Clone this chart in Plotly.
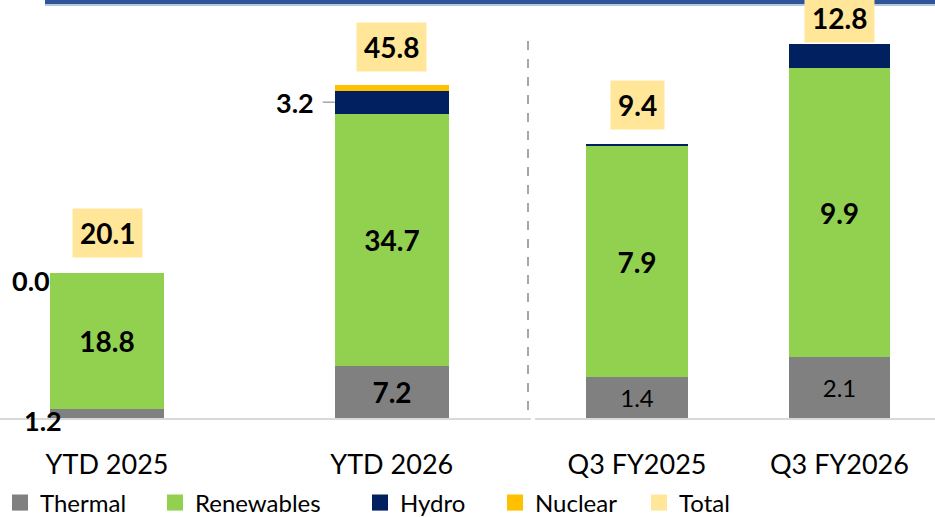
import plotly.graph_objects as go

# ---- data ----
ytd_cats = ["YTD 2025", "YTD 2026"]
q3_cats = ["Q3 FY2025", "Q3 FY2026"]

ytd_thermal = [1.2, 7.2]
ytd_renew = [18.8, 34.7]
ytd_hydro = [0.0, 3.2]
ytd_nuclear = [0.0, 0.7]
ytd_total = [20.1, 45.8]

q3_thermal = [1.4, 2.1]
q3_renew = [7.9, 9.9]
q3_hydro = [0.1, 0.8]
q3_nuclear = [0.0, 0.0]
q3_total = [9.4, 12.8]

series_names = ["Thermal", "Renewables", "Hydro", "Nuclear", "Total"]

# ---- style ----
C_TH, C_RE, C_HY, C_NU, C_TO = "#808080", "#92D050", "#002060", "#FFC000", "#FFE699"
series_colors = [C_TH, C_RE, C_HY, C_NU, C_TO]
FONT = "Lato"
W, H = 935, 517
PLOT_H = 418
LEG_X_PX = [-2, 155, 360, 495, 639]

fig = go.Figure()


def bar(x, y, color, name, xa, ya, text=None, tfont=None, width=0.4):
    fig.add_trace(go.Bar(
        x=x, y=y, name=name, marker=dict(color=color, line=dict(width=0)),
        xaxis=xa, yaxis=ya, width=width, showlegend=False,
        text=text, textposition="inside" if text else None,
        insidetextanchor="middle", textangle=0, constraintext="none",
        insidetextfont=tfont, hoverinfo="skip",
    ))


bold = dict(family=FONT, size=28, color="black")
reg = dict(family=FONT, size=24, color="black")
lg = ["legend", "legend2", "legend3", "legend4", "legend5"]

# left panel
bar(ytd_cats, ytd_thermal, C_TH, series_names[0], "x", "y",
    text=["" if i == 0 else f"<b>{v:.1f}</b>" for i, v in enumerate(ytd_thermal)], tfont=bold)
bar(ytd_cats, ytd_renew, C_RE, series_names[1], "x", "y",
    text=[f"<b>{v:.1f}</b>" for v in ytd_renew], tfont=bold)
bar(ytd_cats, ytd_hydro, C_HY, series_names[2], "x", "y")
bar(ytd_cats, ytd_nuclear, C_NU, series_names[3], "x", "y")

# right panel
bar(q3_cats, q3_thermal, C_TH, series_names[0], "x2", "y2",
    text=[f"{v:.1f}" for v in q3_thermal], tfont=reg, width=0.5)
bar(q3_cats, q3_renew, C_RE, series_names[1], "x2", "y2",
    text=[f"<b>{v:.1f}</b>" for v in q3_renew], tfont=bold, width=0.5)
bar(q3_cats, q3_hydro, C_HY, series_names[2], "x2", "y2", width=0.5)
bar(q3_cats, q3_nuclear, C_NU, series_names[3], "x2", "y2", width=0.5)

# legend entries (square markers)
for name, col, leg in zip(series_names, series_colors, lg):
    fig.add_trace(go.Scatter(
        x=[None], y=[None], mode="markers", name=name, legend=leg,
        marker=dict(symbol="square", size=16, color=col),
        showlegend=True, hoverinfo="skip",
    ))

# total labels
tot_shift = [14, 13, 14, 1]
items = [(c, t, "x", "y") for c, t in zip(ytd_cats, ytd_total)] + \
        [(c, t, "x2", "y2") for c, t in zip(q3_cats, q3_total)]
for (cat, tot, xr, yr), sh in zip(items, tot_shift):
    fig.add_annotation(x=cat, y=tot, xref=xr, yref=yr, text=f"<b>{tot:.1f}</b>",
                       showarrow=False, yanchor="bottom", yshift=sh, bgcolor=C_TO,
                       borderpad=7, font=dict(family=FONT, size=28, color="black"))

# outside labels (left panel)
lab = dict(family=FONT, size=27, color="black")
fig.add_annotation(x=ytd_cats[0], y=ytd_thermal[0] + ytd_renew[0], xref="x", yref="y",
                   text=f"<b>{ytd_hydro[0]:.1f}</b>", showarrow=False, xshift=-76, yshift=-8, font=lab)
fig.add_annotation(x=ytd_cats[0], y=ytd_thermal[0] / 2, xref="x", yref="y",
                   text=f"<b>{ytd_thermal[0]:.1f}</b>", showarrow=False, xshift=-64, yshift=-7, font=lab)
hy_mid = ytd_thermal[1] + ytd_renew[1] + ytd_hydro[1] / 2
fig.add_annotation(x=ytd_cats[1], y=hy_mid, xref="x", yref="y",
                   text=f"<b>{ytd_hydro[1]:.1f}</b>", showarrow=False, xshift=-97, font=lab)
# leader line for hydro label (x in category index units: bar centre 1, half-width 0.2)
fig.add_shape(type="line", xref="x", yref="y", x0=1 - 0.2 - 12 / 283, x1=1 - 0.2,
              y0=hy_mid, y1=hy_mid, line=dict(color="#A6A6A6", width=1.5))

# shapes: top line, dashed divider
fig.add_shape(type="line", xref="paper", yref="paper", x0=45 / W, x1=1, y0=(PLOT_H - 2) / PLOT_H,
              y1=(PLOT_H - 2) / PLOT_H, line=dict(color="#2F5597", width=4))
fig.add_shape(type="line", xref="paper", yref="paper", x0=45 / W, x1=1, y0=(PLOT_H - 5) / PLOT_H,
              y1=(PLOT_H - 5) / PLOT_H, line=dict(color="#9DB3D9", width=1.5))
fig.add_shape(type="line", xref="paper", yref="paper", x0=528 / W, x1=528 / W,
              y0=(PLOT_H - 410) / PLOT_H, y1=(PLOT_H - 38) / PLOT_H,
              line=dict(color="#A6A6A6", width=2, dash="dash"))

axis_font = dict(family=FONT, size=27, color="black")
legend_common = dict(orientation="h", xanchor="left", yref="container", y=(H - 503) / H,
                     yanchor="middle", font=dict(family=FONT, size=24, color="black"),
                     itemclick=False, bgcolor="rgba(0,0,0,0)", itemsizing="trace")
layout_legends = {}
for name, px in zip(lg, LEG_X_PX):
    layout_legends[name] = dict(x=px / W, **legend_common)

fig.update_layout(
    width=W, height=H, barmode="stack", bargap=0,
    margin=dict(l=0, r=0, t=0, b=H - PLOT_H),
    paper_bgcolor="white", plot_bgcolor="white",
    font=dict(family=FONT, color="black"),
    xaxis=dict(domain=[0, 531 / W], type="category", range=[-0.376, 1.489],
               showline=True, linecolor="#D9D9D9", linewidth=2, ticks="",
               tickfont=axis_font, ticklabelstandoff=22, showgrid=False, zeroline=False),
    yaxis=dict(range=[0, PLOT_H / 7.26], visible=False),
    xaxis2=dict(domain=[535 / W, 1], type="category", range=[-0.504, 1.472], anchor="y2",
                showline=True, linecolor="#D9D9D9", linewidth=2, ticks="",
                tickfont=axis_font, ticklabelstandoff=22, showgrid=False, zeroline=False),
    yaxis2=dict(range=[0, PLOT_H / 29.2], visible=False, anchor="x2"),
    showlegend=True,
    **layout_legends,
)

fig.write_html("out.html", config={"displayModeBar": False},
               post_script="document.body.style.margin='0px';")
